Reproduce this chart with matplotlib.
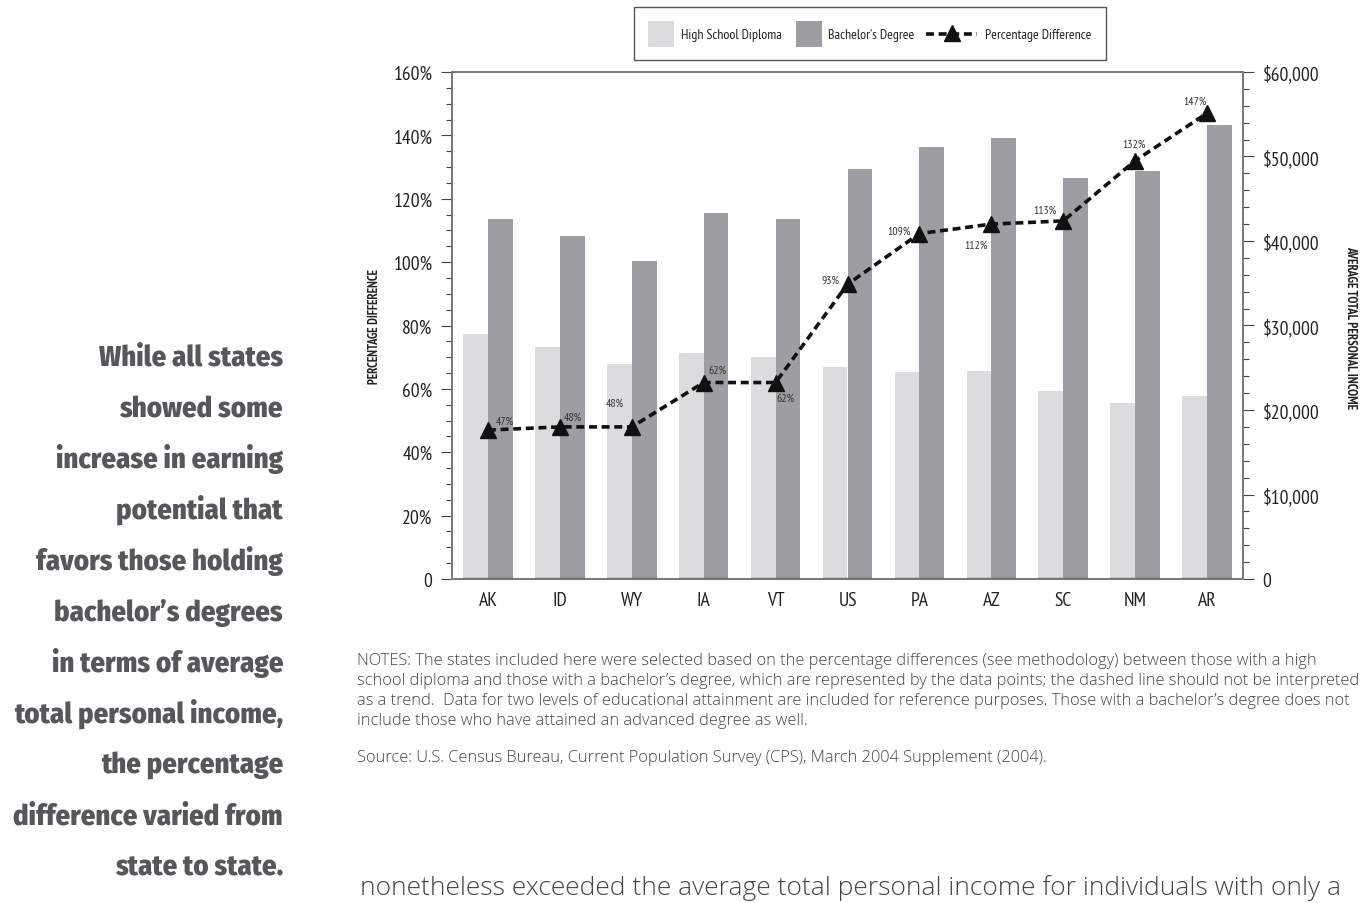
import matplotlib
matplotlib.use("Agg")
import matplotlib.pyplot as plt
import numpy as np
from matplotlib.patches import Rectangle
from matplotlib.lines import Line2D
from matplotlib.ticker import MultipleLocator, FuncFormatter

# ---- data ----
states = ["AK", "ID", "WY", "IA", "VT", "US", "PA", "AZ", "SC", "NM", "AR"]
high_school = [29000, 27400, 25400, 26800, 26300, 25100, 24500, 24600, 22200, 20800, 21700]
bachelors = [42600, 40600, 37600, 43300, 42600, 48500, 51100, 52200, 47500, 48300, 53700]
pct_diff = [47, 48, 48, 62, 62, 93, 109, 112, 113, 132, 147]
pct_labels = ["47%", "48%", "48%", "62%", "62%", "93%", "109%", "112%", "113%", "132%", "147%"]
# label offsets (points) relative to each data point
label_offsets = [(12, 7), (9, 7), (-12, 17), (10, 9), (7, -11), (-12, 3),
                 (-15, 2), (-11, -15), (-13, 8), (-1, 12), (-9, 9)]

COND = ["PT Sans Narrow", "Roboto Condensed", "IBM Plex Sans Condensed", "DejaVu Sans"]
HEAVY = ["Fira Sans Condensed", "Fira Sans Extra Condensed", "Roboto Condensed",
         "IBM Plex Sans Condensed", "DejaVu Sans"]
BODY = ["Open Sans", "Source Sans 3", "PT Sans", "DejaVu Sans"]

LIGHT = "#dcdcde"
DARK = "#9d9ea2"
SPINE = "#7a7a7a"

W, H = 1366, 904
fig = plt.figure(figsize=(W / 100, H / 100), dpi=100)
renderer = fig.canvas.get_renderer()

def fx(px):
    return px / W

def fy(py):
    return 1 - py / H

def fit_size(text, target_px):
    """Font size at which `text` spans target_px pixels."""
    w = text.get_window_extent(renderer=renderer).width
    return text.get_fontsize() * target_px / w

left, right, top, bottom = 452, 1243, 73, 580
ax = fig.add_axes([fx(left), fy(bottom), fx(right - left), (bottom - top) / H])
ax2 = ax.twinx()

x = np.arange(len(states))
bw = 0.345
ax2.bar(x - bw / 2, high_school, width=bw, color=LIGHT, zorder=2)
ax2.bar(x + bw / 2, bachelors, width=bw, color=DARK, zorder=2)
ax2.hlines(np.zeros(len(x)), x - bw, x + bw, color="#111111", lw=1.6, zorder=3)

# percentage difference line on the left axis, drawn above the bars
ax.set_zorder(ax2.get_zorder() + 1)
ax.patch.set_visible(False)
ax.plot(x, pct_diff, color="#111111", lw=2.6, ls=(0, (2.2, 1.3)),
        marker="^", ms=11, mfc="#111111", mec="#111111", zorder=5)
for xi, v, lab, (dx, dy) in zip(x, pct_diff, pct_labels, label_offsets):
    ax.annotate(lab, (xi, v), xytext=(dx, dy), textcoords="offset points",
                ha="center", va="center", fontsize=8.5, color="#333333",
                family=COND)

ax.set_xlim(-0.5, len(states) - 0.5)
ax.set_ylim(0, 160)
ax2.set_ylim(0, 60000)

ax.set_xticks(x)
ax.set_xticklabels(states, family=COND, fontsize=14, color="#222222")
ax.tick_params(axis="x", length=0, pad=9)

ax.yaxis.set_major_locator(MultipleLocator(20))
ax.yaxis.set_minor_locator(MultipleLocator(5))
ax.yaxis.set_major_formatter(FuncFormatter(lambda v, p: "0" if v == 0 else f"{v:.0f}%"))
ax.tick_params(axis="y", which="major", length=8, width=0.8, color="#444444",
               labelsize=14, labelcolor="#222222", pad=6)
ax.tick_params(axis="y", which="minor", length=4, width=0.8, color="#444444")
for t in ax.get_yticklabels():
    t.set_family(COND)

ax2.yaxis.set_major_locator(MultipleLocator(10000))
ax2.yaxis.set_minor_locator(MultipleLocator(2000))
ax2.yaxis.set_major_formatter(FuncFormatter(lambda v, p: "0" if v == 0 else f"${v:,.0f}"))
ax2.tick_params(axis="y", which="major", length=8, width=0.8, color="#444444",
                labelsize=14, labelcolor="#222222", pad=6)
ax2.tick_params(axis="y", which="minor", length=4, width=0.8, color="#444444")
for t in ax2.get_yticklabels():
    t.set_family(COND)

for a in (ax, ax2):
    for s in ("left", "right", "top", "bottom"):
        a.spines[s].set_color(SPINE)
        a.spines[s].set_linewidth(1.3)

fig.text(fx(374), fy(327), "PERCENTAGE DIFFERENCE", rotation=90, ha="center",
         va="center", fontsize=9, fontweight="bold", family=COND, color="#222222")
fig.text(fx(1351), fy(328), "AVERAGE TOTAL PERSONAL INCOME", rotation=-90, ha="center",
         va="center", fontsize=9.2, fontweight="bold", family=COND, color="#222222")

# ---- legend box ----
tr = fig.transFigure
fig.patches.append(Rectangle((fx(634), fy(61)), fx(1106 - 634), (61 - 8) / H,
                             transform=tr, fill=False, ec="#555555", lw=1.0))
fig.patches.append(Rectangle((fx(648), fy(48)), fx(26), 26 / H, transform=tr,
                             fc=LIGHT, ec="none"))
fig.patches.append(Rectangle((fx(796), fy(48)), fx(26), 26 / H, transform=tr,
                             fc=DARK, ec="none"))
fig.lines.append(Line2D([fx(926), fx(977)], [fy(35), fy(35)], transform=tr,
                        color="#111111", lw=2.6, ls=(0, (2.2, 1.3))))
fig.lines.append(Line2D([fx(951.5)], [fy(34)], transform=tr, marker="^", ms=11,
                        color="#111111", lw=0))
for px, s in [(681, "High School Diploma"), (828, "Bachelor\u2019s Degree"),
              (985, "Percentage Difference")]:
    fig.text(fx(px), fy(35), s, ha="left", va="center", fontsize=10,
             family=COND, color="#222222")

# ---- notes ----
notes = [
    "NOTES: The states included here were selected based on the percentage differences (see methodology) between those with a high",
    "school diploma and those with a bachelor\u2019s degree, which are represented by the data points; the dashed line should not be interpreted",
    "as a trend.  Data for two levels of educational attainment are included for reference purposes. Those with a bachelor\u2019s degree does not",
    "include those who have attained an advanced degree as well.",
]
note_texts = []
for i, line in enumerate(notes):
    note_texts.append(fig.text(fx(357), fy(661 + i * 20), line, ha="left", va="center",
                               fontsize=10, family=BODY, fontweight=300,
                               color="#444444"))
src = fig.text(fx(357), fy(758), "Source: U.S. Census Bureau, Current Population Survey (CPS), March 2004 Supplement (2004).",
               ha="left", va="center", fontsize=10, family=BODY, fontweight=300,
               color="#444444")
note_size = fit_size(note_texts[1], 1350 - 357)
for t in note_texts + [src]:
    t.set_fontsize(note_size)

# ---- side callout ----
callout = ["While all states", "showed some", "increase in earning", "potential that",
           "favors those holding", "bachelor\u2019s degrees", "in terms of average",
           "total personal income,", "the percentage", "difference varied from",
           "state to state."]
call_texts = []
for i, line in enumerate(callout):
    call_texts.append(fig.text(fx(283), fy(366 + i * 51), line, ha="right",
                               va="baseline", fontsize=20, fontweight=800,
                               family=HEAVY, color="#55575a"))
call_size = fit_size(call_texts[7], 283 - 14)
for t in call_texts:
    t.set_fontsize(call_size)

body = fig.text(fx(360), fy(888), "nonetheless exceeded the average total personal income for individuals with only a",
                ha="left", va="center", fontsize=16, family=BODY, fontweight=300,
                color="#444444")
body.set_fontsize(fit_size(body, 1346 - 360))

fig.savefig("out.png", dpi=100)
